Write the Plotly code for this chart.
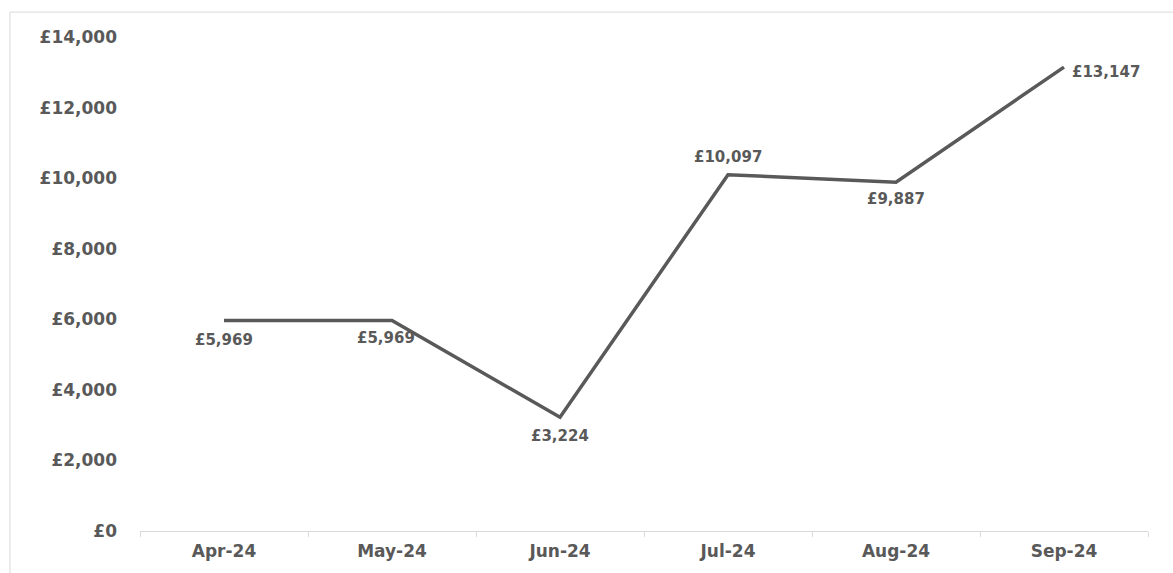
import plotly.graph_objects as go

# Monthly totals
months = ["Apr-24", "May-24", "Jun-24", "Jul-24", "Aug-24", "Sep-24"]
values = [5969, 5969, 3224, 10097, 9887, 13147]
y_ticks = [0, 2000, 4000, 6000, 8000, 10000, 12000, 14000]
y_tick_labels = ["£0", "£2,000", "£4,000", "£6,000", "£8,000", "£10,000", "£12,000", "£14,000"]

# where each value label sits relative to its point: (xshift, yshift, xanchor)
label_offsets = [(0, -20, "center"), (-6, -18, "center"), (0, -19, "center"),
                 (0, 18, "center"), (0, -17, "center"), (6, -5, "left")]

TEXT = "#595959"
FONT = "DejaVu Sans"

fig = go.Figure()
fig.add_trace(go.Scatter(
    x=months, y=values, mode="lines",
    line=dict(color="#595959", width=3.5),
    hoverinfo="skip",
))

for m, v, (dx, dy, anchor) in zip(months, values, label_offsets):
    fig.add_annotation(
        x=m, y=v, text=f"£{v:,}", showarrow=False,
        xshift=dx, yshift=dy, xanchor=anchor, yanchor="middle",
        font=dict(family=FONT, size=15, color=TEXT, weight="bold"),
    )

# light frame around the chart
fig.add_shape(type="rect", xref="paper", yref="paper",
              x0=-0.129, x1=1.04, y0=-0.1, y1=1.0504,
              line=dict(color="#d9d9d9", width=1), layer="below")

fig.update_layout(
    width=1173, height=573,
    margin=dict(l=140, r=25, t=37, b=40),
    paper_bgcolor="white", plot_bgcolor="white",
    showlegend=False,
    xaxis=dict(
        type="category", range=[-0.5, 5.5],
        showline=True, linecolor="#d9d9d9", linewidth=1,
        ticks="outside", tickson="boundaries", ticklen=5, tickcolor="#d9d9d9",
        showgrid=False, zeroline=False,
        tickfont=dict(family=FONT, size=17, color=TEXT, weight="bold"),
        ticklabelstandoff=5,
    ),
    yaxis=dict(
        range=[0, 14000], tickvals=y_ticks, ticktext=y_tick_labels,
        showgrid=False, zeroline=False, showline=False, ticks="",
        tickfont=dict(family=FONT, size=17, color=TEXT, weight="bold"),
        ticklabelstandoff=22,
    ),
)

fig.write_html("out.html")
